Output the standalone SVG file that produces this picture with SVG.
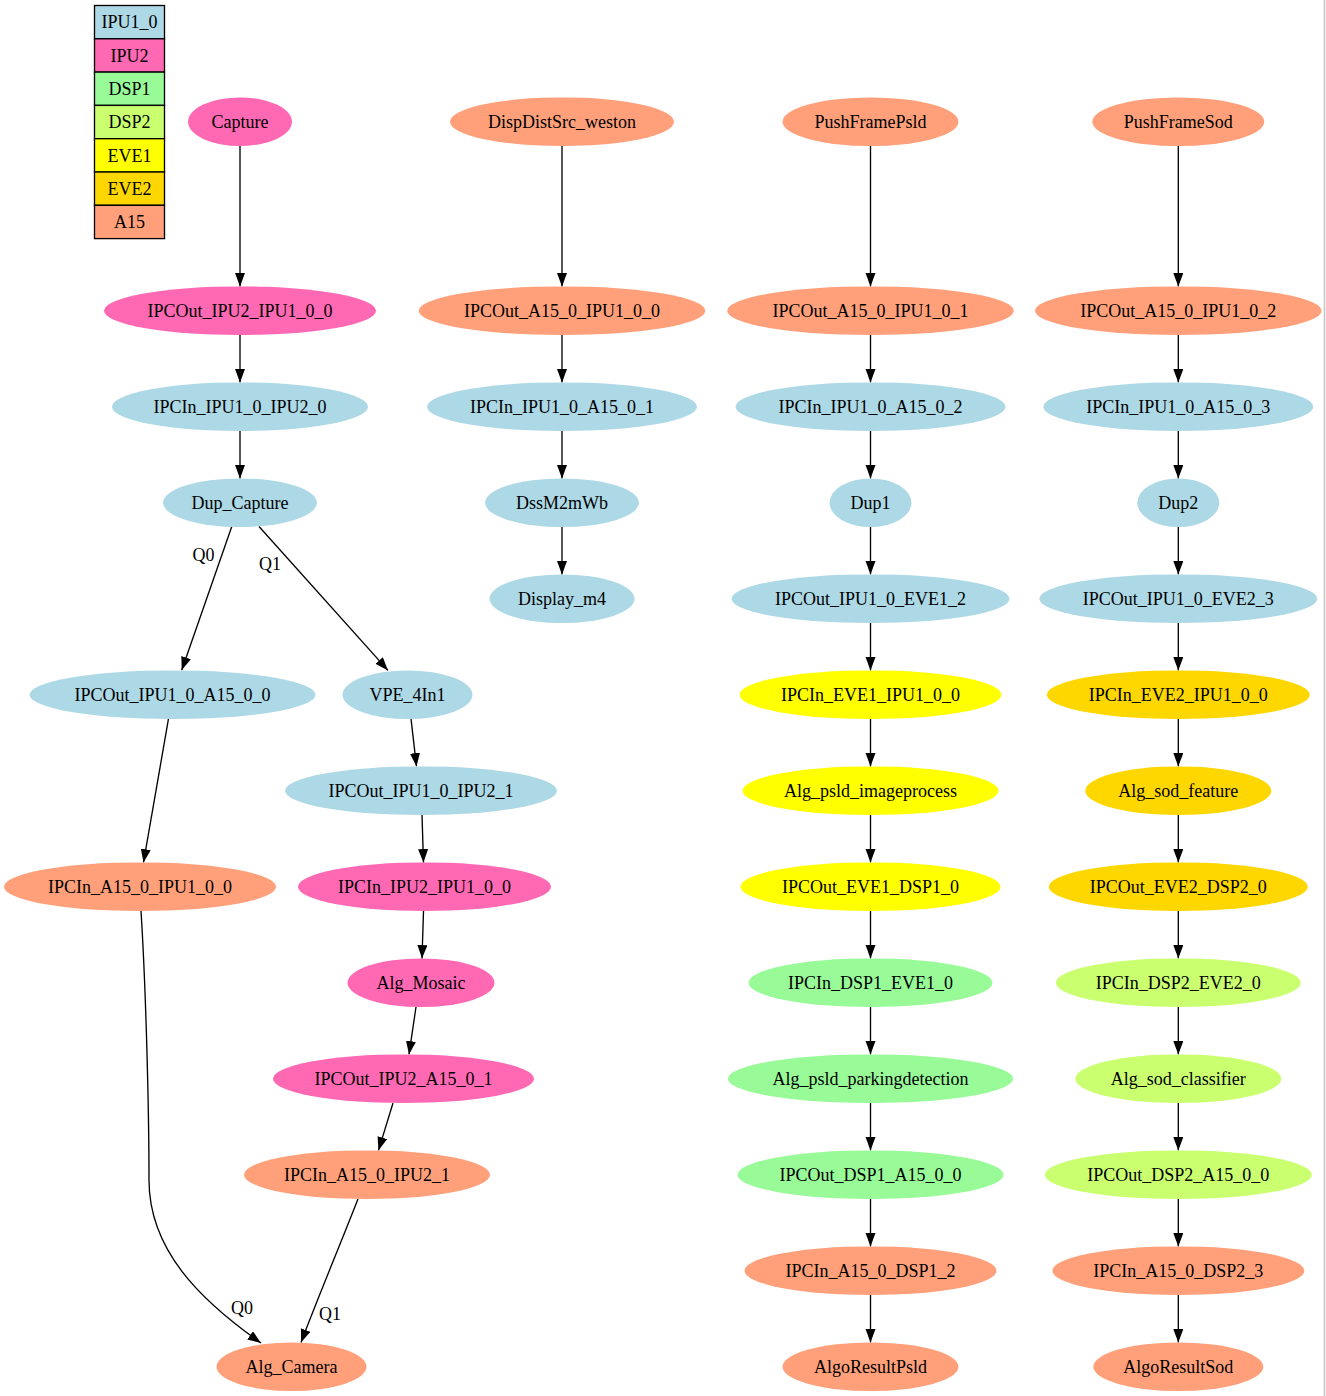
<svg xmlns="http://www.w3.org/2000/svg" width="1326" height="1396" viewBox="0 0 1326 1396">
<style>
text{font-family:"Liberation Serif","Times New Roman",serif;font-size:18px;fill:#000;text-anchor:middle}
.n ellipse{stroke:none}
.ipu1{fill:#add8e6}.ipu2{fill:#ff69b4}.dsp1{fill:#98fb98}.dsp2{fill:#caff70}.eve1{fill:#ffff00}.eve2{fill:#ffd700}.a15{fill:#ffa07a}
.cell{stroke:#000;stroke-width:1.33}
#edges path{fill:none;stroke:#000;stroke-width:1.33;marker-end:url(#arr)}
</style>
<defs>
<marker id="arr" markerUnits="userSpaceOnUse" markerWidth="14" markerHeight="11" refX="13.3" refY="5" orient="auto"><path d="M0,0 L13.3,5 L0,10 z" fill="#000"/></marker>
</defs>
<rect width="1326" height="1396" fill="#fff"/>
<line x1="1324.5" y1="0" x2="1324.5" y2="1396" stroke="#c4c4c4" stroke-width="1.5"/>
<g id="legend">
<rect class="cell ipu1" x="94.5" y="5.5" width="70" height="33.3"/><text x="129.5" y="28.3">IPU1_0</text>
<rect class="cell ipu2" x="94.5" y="38.8" width="70" height="33.3"/><text x="129.5" y="61.6">IPU2</text>
<rect class="cell dsp1" x="94.5" y="72.1" width="70" height="33.3"/><text x="129.5" y="94.9">DSP1</text>
<rect class="cell dsp2" x="94.5" y="105.4" width="70" height="33.3"/><text x="129.5" y="128.2">DSP2</text>
<rect class="cell eve1" x="94.5" y="138.7" width="70" height="33.3"/><text x="129.5" y="161.5">EVE1</text>
<rect class="cell eve2" x="94.5" y="172" width="70" height="33.3"/><text x="129.5" y="194.8">EVE2</text>
<rect class="cell a15" x="94.5" y="205.3" width="70" height="33.3"/><text x="129.5" y="228.1">A15</text>
</g>
<g id="edges">
<path d="M240,146 L240,286.4"/>
<path d="M240,335 L240,382.4"/>
<path d="M240,431 L240,478.4"/>
<path d="M231.7,526.7 L181.7,670.2"/>
<path d="M259,526.5 L388,670.4"/>
<path d="M168.5,718.7 L143.5,862.4"/>
<path d="M411,718.7 L416.5,766.4"/>
<path d="M422,815 L423.5,862.4"/>
<path d="M423.5,911 L422,958.4"/>
<path d="M416,1007 L409,1054.4"/>
<path d="M393,1103 L378.5,1150.4"/>
<path d="M141,911 C146,990 149,1110 149,1180 C149,1250 200,1300 261,1343"/>
<path d="M358,1199 C340,1245 315,1305 301,1342.5"/>
<path d="M562,146 L562,286.4"/>
<path d="M562,335 L562,382.4"/>
<path d="M562,431 L562,478.4"/>
<path d="M562,527 L562,574.4"/>
<path d="M870.5,146 L870.5,286.4"/>
<path d="M870.5,335 L870.5,382.4"/>
<path d="M870.5,431 L870.5,478.4"/>
<path d="M870.5,527 L870.5,574.4"/>
<path d="M870.5,623 L870.5,670.4"/>
<path d="M870.5,719 L870.5,766.4"/>
<path d="M870.5,815 L870.5,862.4"/>
<path d="M870.5,911 L870.5,958.4"/>
<path d="M870.5,1007 L870.5,1054.4"/>
<path d="M870.5,1103 L870.5,1150.4"/>
<path d="M870.5,1199 L870.5,1246.4"/>
<path d="M870.5,1295 L870.5,1342.4"/>
<path d="M1178.3,146 L1178.3,286.4"/>
<path d="M1178.3,335 L1178.3,382.4"/>
<path d="M1178.3,431 L1178.3,478.4"/>
<path d="M1178.3,527 L1178.3,574.4"/>
<path d="M1178.3,623 L1178.3,670.4"/>
<path d="M1178.3,719 L1178.3,766.4"/>
<path d="M1178.3,815 L1178.3,862.4"/>
<path d="M1178.3,911 L1178.3,958.4"/>
<path d="M1178.3,1007 L1178.3,1054.4"/>
<path d="M1178.3,1103 L1178.3,1150.4"/>
<path d="M1178.3,1199 L1178.3,1246.4"/>
<path d="M1178.3,1295 L1178.3,1342.4"/>
<text x="203.5" y="561">Q0</text>
<text x="270" y="570">Q1</text>
<text x="242" y="1314">Q0</text>
<text x="330" y="1320">Q1</text>
</g>
<g id="Capture" class="n"><ellipse class="ipu2" cx="240" cy="121.7" rx="52" ry="24.3"/><text x="240" y="127.5">Capture</text></g>
<g id="IPCOut_IPU2_IPU1_0_0" class="n"><ellipse class="ipu2" cx="240" cy="310.7" rx="136" ry="24.3"/><text x="240" y="316.5">IPCOut_IPU2_IPU1_0_0</text></g>
<g id="IPCIn_IPU1_0_IPU2_0" class="n"><ellipse class="ipu1" cx="240" cy="406.7" rx="128" ry="24.3"/><text x="240" y="412.5">IPCIn_IPU1_0_IPU2_0</text></g>
<g id="Dup_Capture" class="n"><ellipse class="ipu1" cx="240" cy="502.7" rx="77" ry="24.3"/><text x="240" y="508.5">Dup_Capture</text></g>
<g id="IPCOut_IPU1_0_A15_0_0" class="n"><ellipse class="ipu1" cx="172.5" cy="694.7" rx="143" ry="24.3"/><text x="172.5" y="700.5">IPCOut_IPU1_0_A15_0_0</text></g>
<g id="VPE_4In1" class="n"><ellipse class="ipu1" cx="407.5" cy="694.7" rx="65" ry="24.3"/><text x="407.5" y="700.5">VPE_4In1</text></g>
<g id="IPCOut_IPU1_0_IPU2_1" class="n"><ellipse class="ipu1" cx="421" cy="790.7" rx="136" ry="24.3"/><text x="421" y="796.5">IPCOut_IPU1_0_IPU2_1</text></g>
<g id="IPCIn_A15_0_IPU1_0_0" class="n"><ellipse class="a15" cx="140" cy="886.7" rx="136" ry="24.3"/><text x="140" y="892.5">IPCIn_A15_0_IPU1_0_0</text></g>
<g id="IPCIn_IPU2_IPU1_0_0" class="n"><ellipse class="ipu2" cx="424.5" cy="886.7" rx="126.5" ry="24.3"/><text x="424.5" y="892.5">IPCIn_IPU2_IPU1_0_0</text></g>
<g id="Alg_Mosaic" class="n"><ellipse class="ipu2" cx="421" cy="982.7" rx="73.5" ry="24.3"/><text x="421" y="988.5">Alg_Mosaic</text></g>
<g id="IPCOut_IPU2_A15_0_1" class="n"><ellipse class="ipu2" cx="403.5" cy="1078.7" rx="130.5" ry="24.3"/><text x="403.5" y="1084.5">IPCOut_IPU2_A15_0_1</text></g>
<g id="IPCIn_A15_0_IPU2_1" class="n"><ellipse class="a15" cx="367" cy="1174.7" rx="123" ry="24.3"/><text x="367" y="1180.5">IPCIn_A15_0_IPU2_1</text></g>
<g id="Alg_Camera" class="n"><ellipse class="a15" cx="291.5" cy="1366.7" rx="75" ry="24.3"/><text x="291.5" y="1372.5">Alg_Camera</text></g>
<g id="DispDistSrc_weston" class="n"><ellipse class="a15" cx="562" cy="121.7" rx="112" ry="24.3"/><text x="562" y="127.5">DispDistSrc_weston</text></g>
<g id="IPCOut_A15_0_IPU1_0_0" class="n"><ellipse class="a15" cx="562" cy="310.7" rx="143.3" ry="24.3"/><text x="562" y="316.5">IPCOut_A15_0_IPU1_0_0</text></g>
<g id="IPCIn_IPU1_0_A15_0_1" class="n"><ellipse class="ipu1" cx="562" cy="406.7" rx="135" ry="24.3"/><text x="562" y="412.5">IPCIn_IPU1_0_A15_0_1</text></g>
<g id="DssM2mWb" class="n"><ellipse class="ipu1" cx="562" cy="502.7" rx="77" ry="24.3"/><text x="562" y="508.5">DssM2mWb</text></g>
<g id="Display_m4" class="n"><ellipse class="ipu1" cx="562" cy="598.7" rx="72.5" ry="24.3"/><text x="562" y="604.5">Display_m4</text></g>
<g id="PushFramePsld" class="n"><ellipse class="a15" cx="870.5" cy="121.7" rx="88" ry="24.3"/><text x="870.5" y="127.5">PushFramePsld</text></g>
<g id="IPCOut_A15_0_IPU1_0_1" class="n"><ellipse class="a15" cx="870.5" cy="310.7" rx="143.3" ry="24.3"/><text x="870.5" y="316.5">IPCOut_A15_0_IPU1_0_1</text></g>
<g id="IPCIn_IPU1_0_A15_0_2" class="n"><ellipse class="ipu1" cx="870.5" cy="406.7" rx="135" ry="24.3"/><text x="870.5" y="412.5">IPCIn_IPU1_0_A15_0_2</text></g>
<g id="Dup1" class="n"><ellipse class="ipu1" cx="870.5" cy="502.7" rx="41" ry="24.3"/><text x="870.5" y="508.5">Dup1</text></g>
<g id="IPCOut_IPU1_0_EVE1_2" class="n"><ellipse class="ipu1" cx="870.5" cy="598.7" rx="139" ry="24.3"/><text x="870.5" y="604.5">IPCOut_IPU1_0_EVE1_2</text></g>
<g id="IPCIn_EVE1_IPU1_0_0" class="n"><ellipse class="eve1" cx="870.5" cy="694.7" rx="131" ry="24.3"/><text x="870.5" y="700.5">IPCIn_EVE1_IPU1_0_0</text></g>
<g id="Alg_psld_imageprocess" class="n"><ellipse class="eve1" cx="870.5" cy="790.7" rx="128" ry="24.3"/><text x="870.5" y="796.5">Alg_psld_imageprocess</text></g>
<g id="IPCOut_EVE1_DSP1_0" class="n"><ellipse class="eve1" cx="870.5" cy="886.7" rx="130" ry="24.3"/><text x="870.5" y="892.5">IPCOut_EVE1_DSP1_0</text></g>
<g id="IPCIn_DSP1_EVE1_0" class="n"><ellipse class="dsp1" cx="870.5" cy="982.7" rx="122" ry="24.3"/><text x="870.5" y="988.5">IPCIn_DSP1_EVE1_0</text></g>
<g id="Alg_psld_parkingdetection" class="n"><ellipse class="dsp1" cx="870.5" cy="1078.7" rx="142.6" ry="24.3"/><text x="870.5" y="1084.5">Alg_psld_parkingdetection</text></g>
<g id="IPCOut_DSP1_A15_0_0" class="n"><ellipse class="dsp1" cx="870.5" cy="1174.7" rx="133" ry="24.3"/><text x="870.5" y="1180.5">IPCOut_DSP1_A15_0_0</text></g>
<g id="IPCIn_A15_0_DSP1_2" class="n"><ellipse class="a15" cx="870.5" cy="1270.7" rx="126" ry="24.3"/><text x="870.5" y="1276.5">IPCIn_A15_0_DSP1_2</text></g>
<g id="AlgoResultPsld" class="n"><ellipse class="a15" cx="870.5" cy="1366.7" rx="88" ry="24.3"/><text x="870.5" y="1372.5">AlgoResultPsld</text></g>
<g id="PushFrameSod" class="n"><ellipse class="a15" cx="1178.3" cy="121.7" rx="86" ry="24.3"/><text x="1178.3" y="127.5">PushFrameSod</text></g>
<g id="IPCOut_A15_0_IPU1_0_2" class="n"><ellipse class="a15" cx="1178.3" cy="310.7" rx="143.3" ry="24.3"/><text x="1178.3" y="316.5">IPCOut_A15_0_IPU1_0_2</text></g>
<g id="IPCIn_IPU1_0_A15_0_3" class="n"><ellipse class="ipu1" cx="1178.3" cy="406.7" rx="135" ry="24.3"/><text x="1178.3" y="412.5">IPCIn_IPU1_0_A15_0_3</text></g>
<g id="Dup2" class="n"><ellipse class="ipu1" cx="1178.3" cy="502.7" rx="41" ry="24.3"/><text x="1178.3" y="508.5">Dup2</text></g>
<g id="IPCOut_IPU1_0_EVE2_3" class="n"><ellipse class="ipu1" cx="1178.3" cy="598.7" rx="139" ry="24.3"/><text x="1178.3" y="604.5">IPCOut_IPU1_0_EVE2_3</text></g>
<g id="IPCIn_EVE2_IPU1_0_0" class="n"><ellipse class="eve2" cx="1178.3" cy="694.7" rx="131.5" ry="24.3"/><text x="1178.3" y="700.5">IPCIn_EVE2_IPU1_0_0</text></g>
<g id="Alg_sod_feature" class="n"><ellipse class="eve2" cx="1178.3" cy="790.7" rx="93" ry="24.3"/><text x="1178.3" y="796.5">Alg_sod_feature</text></g>
<g id="IPCOut_EVE2_DSP2_0" class="n"><ellipse class="eve2" cx="1178.3" cy="886.7" rx="129.5" ry="24.3"/><text x="1178.3" y="892.5">IPCOut_EVE2_DSP2_0</text></g>
<g id="IPCIn_DSP2_EVE2_0" class="n"><ellipse class="dsp2" cx="1178.3" cy="982.7" rx="122.5" ry="24.3"/><text x="1178.3" y="988.5">IPCIn_DSP2_EVE2_0</text></g>
<g id="Alg_sod_classifier" class="n"><ellipse class="dsp2" cx="1178.3" cy="1078.7" rx="103" ry="24.3"/><text x="1178.3" y="1084.5">Alg_sod_classifier</text></g>
<g id="IPCOut_DSP2_A15_0_0" class="n"><ellipse class="dsp2" cx="1178.3" cy="1174.7" rx="133.5" ry="24.3"/><text x="1178.3" y="1180.5">IPCOut_DSP2_A15_0_0</text></g>
<g id="IPCIn_A15_0_DSP2_3" class="n"><ellipse class="a15" cx="1178.3" cy="1270.7" rx="126" ry="24.3"/><text x="1178.3" y="1276.5">IPCIn_A15_0_DSP2_3</text></g>
<g id="AlgoResultSod" class="n"><ellipse class="a15" cx="1178.3" cy="1366.7" rx="85" ry="24.3"/><text x="1178.3" y="1372.5">AlgoResultSod</text></g>
</svg>
